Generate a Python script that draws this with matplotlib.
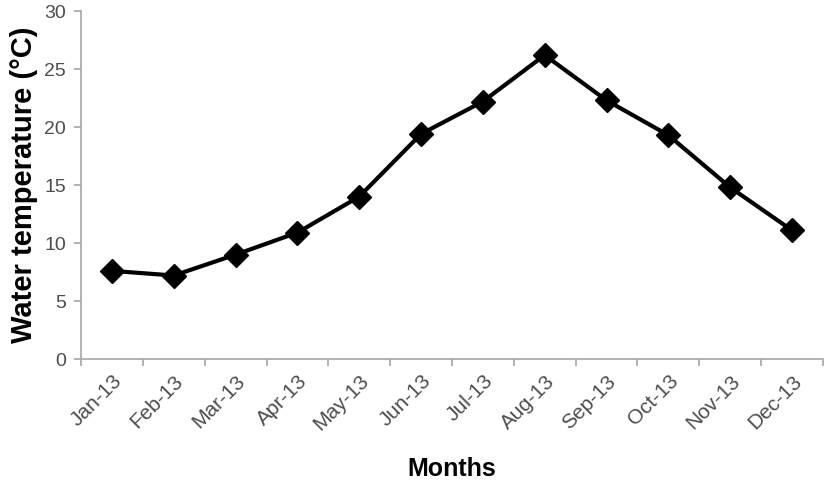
import matplotlib.pyplot as plt
import numpy as np

plt.rcParams.update({
    "font.family": "Liberation Sans",
})

## data
months = ["Jan-13", "Feb-13", "Mar-13", "Apr-13", "May-13", "Jun-13",
          "Jul-13", "Aug-13", "Sep-13", "Oct-13", "Nov-13", "Dec-13"]
water_temp = [7.6, 7.2, 9.0, 10.9, 14.0, 19.4, 22.2, 26.2, 22.3, 19.3, 14.8, 11.1]

## style
fs_xtick = 15
fs_ytick = 14
col_axis = "#a6a6a6"
col_tick = "#4d4d4d"

fig = plt.figure(figsize=(8.27, 4.8), dpi=100)
ax = fig.add_axes([0.098, 0.252, 0.897, 0.725])

x = np.arange(len(months))
ax.plot(x, water_temp, "k", lw=3, marker="D", markersize=12, zorder=3)

ax.set_xlim(-0.5, len(months) - 0.5)
ax.set_ylim(0, 30)
ax.set_yticks(np.arange(0, 31, 5))

# labels at category centres, tick marks at boundaries
ax.set_xticks(x)
ax.set_xticklabels(months, rotation=45, ha="right", rotation_mode="anchor")
ax.set_xticks(np.arange(-0.5, len(months), 1), minor=True)
ax.tick_params(axis="x", which="major", length=0, labelsize=fs_xtick, labelcolor=col_tick, pad=9)
ax.tick_params(axis="x", which="minor", length=5, color=col_axis, width=1.2)
ax.tick_params(axis="y", length=5, color=col_axis, width=1.2, labelsize=fs_ytick, labelcolor=col_tick, pad=6)

for side in ["top", "right"]:
    ax.spines[side].set_visible(False)
for side in ["left", "bottom"]:
    ax.spines[side].set_color(col_axis)
    ax.spines[side].set_linewidth(1.2)

ax.set_xlabel("Months", fontsize=18, fontweight="bold", labelpad=16)
ax.set_ylabel("Water temperature (°C)", fontsize=21, fontweight="bold", labelpad=4)

fig.savefig("out.png", dpi=100)
